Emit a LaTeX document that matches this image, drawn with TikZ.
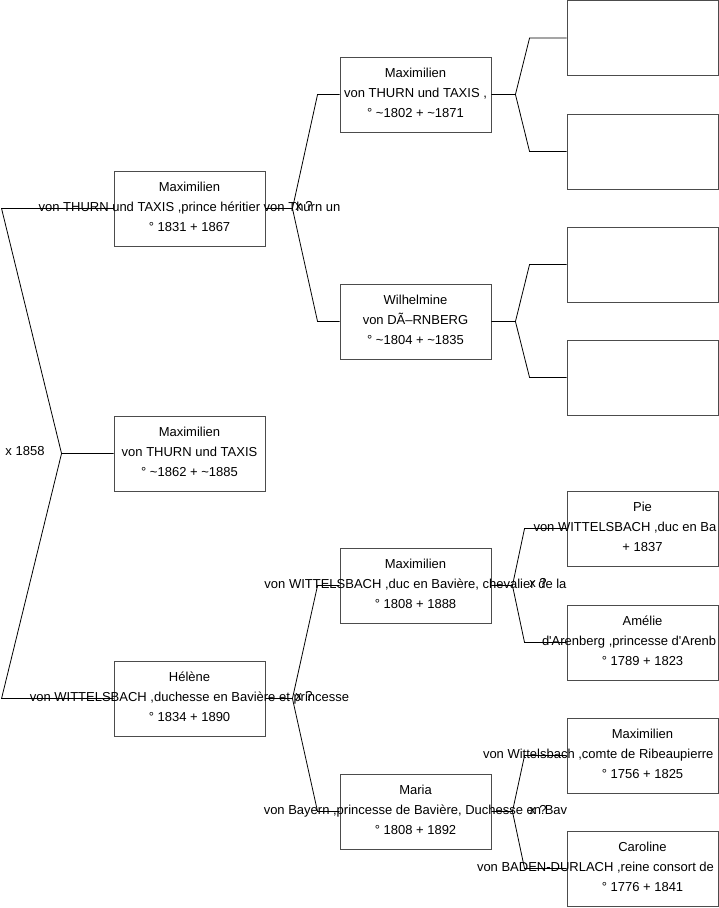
\documentclass[tikz,border=0pt]{standalone}
\usepackage{fontspec}
\setmainfont{Liberation Sans}
\newcommand{\ligne}[1]{\makebox[0pt]{#1}}
\newcommand{\coupe}[2]{\makebox[0pt][l]{\hspace*{#1}#2}}
\tikzset{boite/.style={draw=black!70,line width=.9pt,minimum width=151pt,minimum height=75pt,inner sep=0pt,align=center,text depth=4pt},
  lien/.style={line width=.8pt}}
\begin{document}
\begin{tikzpicture}[x=1pt,y=-1pt,font=\fontsize{13}{20}\selectfont]
\useasboundingbox (0,0) rectangle (719,908);
% boxes, numbered as in an ancestor table
\foreach \n/\x/\y/\txt in {
  1/189.5/453.5/{\ligne{Maximilien}\\\ligne{von THURN und TAXIS}\\\ligne{° \textasciitilde1862 + \textasciitilde1885}},
  2/189.5/208.5/{\ligne{Maximilien}\\\ligne{von THURN und TAXIS ,prince héritier von Thurn un}\\\ligne{° 1831 + 1867}},
  3/189.5/698.5/{\ligne{Hélène}\\\ligne{von WITTELSBACH ,duchesse en Bavière et princesse}\\\ligne{° 1834 + 1890}},
  4/415.5/94.5/{\ligne{Maximilien}\\\ligne{von THURN und TAXIS ,}\\\ligne{° \textasciitilde1802 + \textasciitilde1871}},
  5/415.5/321.5/{\ligne{Wilhelmine}\\\ligne{von DÃ–RNBERG}\\\ligne{° \textasciitilde1804 + \textasciitilde1835}},
  6/415.5/585.5/{\ligne{Maximilien}\\\ligne{von WITTELSBACH ,duc en Bavière, chevalier de la}\\\ligne{° 1808 + 1888}},
  7/415.5/811.5/{\ligne{Maria}\\\ligne{von Bayern ,princesse de Bavière, Duchesse en Bav}\\\ligne{° 1808 + 1892}},
  8/642.5/38/{}, 9/642.5/151.5/{}, 10/642.5/264.5/{}, 11/642.5/377.5/{},
  12/642.5/528.5/{\ligne{Pie}\\\coupe{-109pt}{von WITTELSBACH ,duc en Ba}\\\ligne{+ 1837}},
  13/642.5/642.5/{\ligne{Amélie}\\\coupe{-100.5pt}{d\textquotesingle Arenberg ,princesse d\textquotesingle Arenb}\\\ligne{° 1789 + 1823}},
  14/642.5/755.5/{\ligne{Maximilien}\\\coupe{-159.5pt}{von Wittelsbach ,comte de Ribeaupierre}\\\ligne{° 1756 + 1825}},
  15/642.5/868.5/{\ligne{Caroline}\\\coupe{-165.5pt}{von BADEN-DURLACH ,reine consort de}\\\ligne{° 1776 + 1841}}}
  \path (\x,\y) node[boite](s\n){\txt};
% forks
\draw[lien] (s1.west) -- ++(-52,0) coordinate(v1) -- ([xshift=-112pt]s2.west) -- (s2.west) (v1) -- ([xshift=-112pt]s3.west) -- (s3.west);
\foreach \p/\a/\b/\d/\e in {2/4/5/27/22,3/6/7/27/22,4/8/9/24/37,5/10/11/24/37,6/12/13/21/42,7/14/15/21/42}
  \draw[lien] (s\p.east) -- ++(\d,0) coordinate(v\p) -- ([xshift=-\e pt]s\a.west) -- (s\a.west) (v\p) -- ([xshift=-\e pt]s\b.west) -- (s\b.west);
% marriages
\foreach \n/\x/\y/\t in {m1/25/451/x 1858,m2/304/206/x ?,m3/304/696/x ?,m6/538/583/x ?,m7/538/810/x ?}
  \path (\x,\y) node(\n){\t};
\end{tikzpicture}
\end{document}
